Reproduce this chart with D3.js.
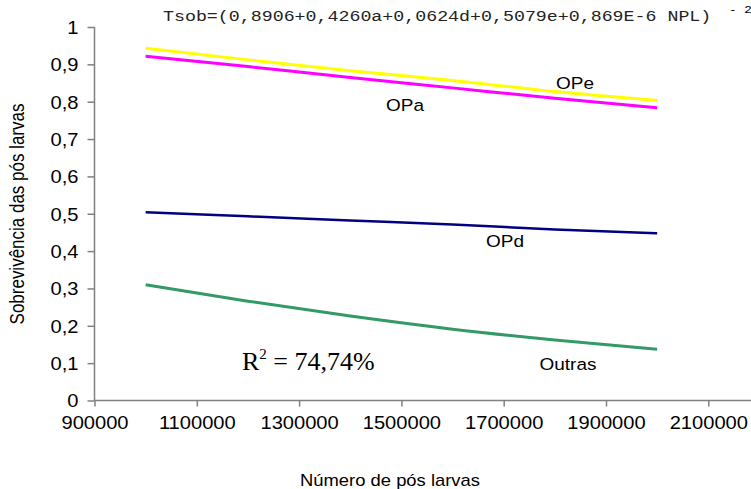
<!DOCTYPE html>
<html>
<head>
<meta charset="utf-8">
<script src="https://cdn.jsdelivr.net/npm/d3@7"></script>
<style>
  body { margin: 0; background: #fff; }
  svg { display: block; }
  .axis path, .axis line { stroke: #808080; stroke-width: 1.5px; }
  .axis text { font-family: "Liberation Sans", Arial, sans-serif; font-size: 17.5px; fill: #000; }
</style>
</head>
<body>
<script>
(function(){

    // numero de pos larvas (x) and sobrevivencia per group
    var npl = [1000000, 1200000, 1400000, 1600000, 1800000, 2000000];
    var ope = [0.943, 0.912, 0.883, 0.857, 0.827, 0.803];
    var opa = [0.922, 0.894, 0.865, 0.837, 0.809, 0.784];
    var opd = [0.504, 0.493, 0.482, 0.471, 0.458, 0.448];
    var outras = [0.310, 0.266, 0.226, 0.191, 0.162, 0.137];

    var xTicks = [900000, 1100000, 1300000, 1500000, 1700000, 1900000, 2100000];
    var yTicks = [0, 0.1, 0.2, 0.3, 0.4, 0.5, 0.6, 0.7, 0.8, 0.9, 1];

    var series = [
        {name: "OPe", values: ope, color: "#ffff00", width: 3, lx: 575, ly: 89},
        {name: "OPa", values: opa, color: "#ff00ff", width: 3, lx: 405, ly: 111},
        {name: "OPd", values: opd, color: "#000080", width: 2.5, lx: 505, ly: 247},
        {name: "Outras", values: outras, color: "#339966", width: 3, lx: 568, ly: 370}
    ];

    var width = 751, height = 489;
    var stretch = 1.15;

    var svg = d3.select("body").append("svg")
        .attr("width", width)
        .attr("height", height);

    var x = d3.scaleLinear().domain([900000, 2300000]).range([94.5, 94.5 + 7 * 102.3]);
    var y = d3.scaleLinear().domain([0, 1]).range([400.5, 27]);

    // axes
    var yAxis = svg.append("g")
        .attr("class", "axis")
        .attr("transform", "translate(94.5,0)")
        .call(d3.axisLeft(y).tickValues(yTicks).tickSize(7).tickPadding(7)
            .tickFormat(function(d){ return d === 0 || d === 1 ? d : d3.format(".1f")(d).replace(".", ","); }));
    yAxis.select(".domain").attr("d", "M0," + y(1) + "V" + y(0));
    yAxis.selectAll("text").attr("transform", "scale(" + stretch + ",1)").attr("dy", "0.36em");

    var xAxis = svg.append("g")
        .attr("class", "axis")
        .attr("transform", "translate(0,400.5)")
        .call(d3.axisBottom(x).tickValues(xTicks).tickSize(6).tickPadding(6).tickFormat(d3.format("d")));
    xAxis.select(".domain").attr("d", "M" + x(900000) + ",0H" + width);
    xAxis.selectAll("text").attr("transform", "scale(" + stretch + ",1)").attr("dy", "0.95em");

    // lines
    var line = d3.line()
        .x(function(d){ return x(d[0]); })
        .y(function(d){ return y(d[1]); })
        .curve(d3.curveMonotoneX);

    series.forEach(function(s){
        svg.append("path")
            .datum(npl.map(function(n, i){ return [n, s.values[i]]; }))
            .attr("d", line)
            .attr("fill", "none")
            .attr("stroke", s.color)
            .attr("stroke-width", s.width);

        svg.append("text")
            .attr("transform", "translate(" + s.lx + "," + s.ly + ") scale(" + stretch + ",1)")
            .attr("text-anchor", "middle")
            .style("font-family", "Liberation Sans, Arial, sans-serif")
            .style("font-size", "16.5px")
            .text(s.name);
    });

    // axis titles
    svg.append("text")
        .attr("transform", "translate(390,486) scale(" + stretch + ",1)")
        .attr("text-anchor", "middle")
        .style("font-family", "Liberation Sans, Arial, sans-serif")
        .style("font-size", "16px")
        .text("Número de pós larvas");

    svg.append("text")
        .attr("transform", "translate(24,214) scale(" + stretch + ",1) rotate(-90)")
        .attr("text-anchor", "middle")
        .style("font-family", "Liberation Sans, Arial, sans-serif")
        .style("font-size", "17px")
        .text("Sobrevivência das pós larvas");

    // model equation
    svg.append("text")
        .attr("transform", "translate(163,21) scale(1.18,1)")
        .style("font-family", "Liberation Mono, Courier New, monospace")
        .style("font-size", "15.5px")
        .style("fill", "#222")
        .text("Tsob=(0,8906+0,4260a+0,0624d+0,5079e+0,869E-6 NPL)");

    svg.append("text")
        .attr("transform", "translate(729,13) scale(" + stretch + ",1)")
        .style("font-family", "Liberation Mono, Courier New, monospace")
        .style("font-size", "11px")
        .text("- 2");

    // R squared
    var r2 = svg.append("text")
        .attr("x", 242)
        .attr("y", 370)
        .style("font-family", "Liberation Serif, Times New Roman, serif")
        .style("font-size", "26px");
    r2.append("tspan").text("R");
    r2.append("tspan").attr("dy", -11).style("font-size", "15px").text("2");
    r2.append("tspan").attr("dy", 11).text(" = 74,74%");

})();
</script>
</body>
</html>
